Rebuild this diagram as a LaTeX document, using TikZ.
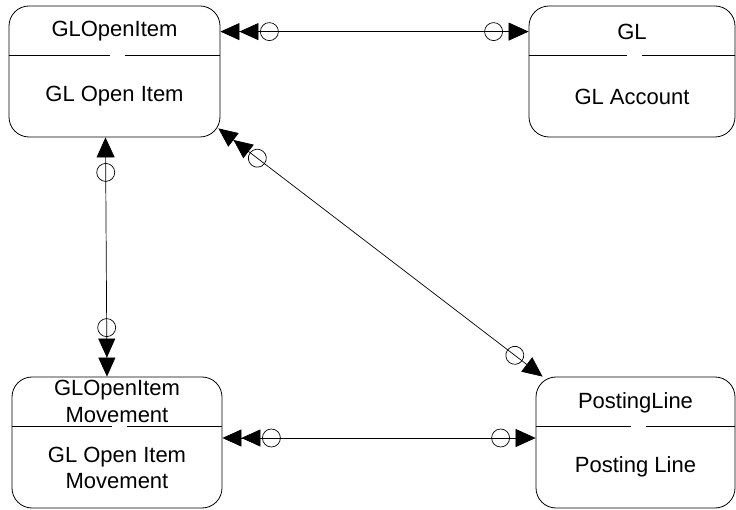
\documentclass[tikz,border=0pt]{standalone}
\usepackage{fontspec}
\setmainfont{Liberation Sans}
\usetikzlibrary{arrows.meta, decorations.markings}

\begin{document}
\begin{tikzpicture}[x=1pt, y=-1pt,
    entity/.style={draw, line width=0.8pt, rounded corners=20pt, minimum height=131pt},
    txt/.style={font=\fontsize{22}{26.5}\selectfont, align=center, inner sep=0pt},
    link/.style={line width=0.7pt,
        {Triangle[length=19pt,width=17pt] Triangle[length=19pt,width=17pt]}-{Triangle[length=20pt,width=18pt]},
        postaction={decorate},
        decoration={markings,
            mark=at position 49pt with {\draw[-, line width=0.7pt] (0,0) circle (9pt);},
            mark=at position -35pt with {\draw[-, line width=0.7pt] (0,0) circle (9pt);}}}]
    \useasboundingbox (0,0) rectangle (736,510);

    % 1. Entitaeten
    \node[entity, minimum width=211pt] (glopen) at (114.5,71.5) {};
    \node[entity, minimum width=206pt] (gl) at (632,71.5) {};
    \node[entity, minimum width=210pt] (mov) at (117,442.5) {};
    \node[entity, minimum width=199pt] (post) at (635.5,442.5) {};

    % 2. Trennlinien mit Luecke
    \foreach \n in {glopen, gl, mov, post} {
        \draw[line width=0.8pt] ([yshift=-50pt]\n.north west) -- ([xshift=-5pt, yshift=-50pt]\n.north);
        \draw[line width=0.8pt] ([xshift=10pt, yshift=-50pt]\n.north) -- ([yshift=-50pt]\n.north east);
    }

    % 3. Texte
    \node[txt] (glopen-t) at ([yshift=-26pt]glopen.north) {GLOpenItem};
    \node[txt] (glopen-b) at ([yshift=-91pt]glopen.north) {GL Open Item};
    \node[txt] (gl-t) at ([yshift=-26pt]gl.north) {GL};
    \node[txt] (gl-b) at ([yshift=-91pt]gl.north) {GL Account};
    \node[txt] (mov-t) at ([yshift=-25pt]mov.north) {GLOpenItem\\Movement};
    \node[txt] (mov-b) at ([yshift=-91.5pt]mov.north) {GL Open Item\\Movement};
    \node[txt] (post-t) at ([yshift=-26pt]post.north) {PostingLine};
    \node[txt] (post-b) at ([yshift=-90pt]post.north) {Posting Line};

    % 4. Beziehungen
    \draw[link] (glopen.east |- glopen-t) -- (gl.west |- gl-t);
    \draw[link] ([xshift=-10pt]mov.north) -- ([xshift=-9pt]glopen.south);
    \draw[link] ([shift={(-2pt,9pt)}]glopen.south east) -- ([xshift=7pt]post.north west);
    \draw[link] ([yshift=4.5pt]mov.east) -- ([yshift=4.5pt]post.west);
\end{tikzpicture}
\end{document}
